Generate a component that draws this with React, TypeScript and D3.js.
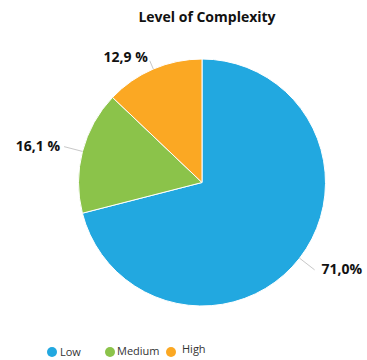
import React from "react";
import * as d3 from "d3";

const categories = ["Low", "Medium", "High"];
const values = [71.0, 16.1, 12.9];
const labels = ["71,0%", "16,1 %", "12,9 %"];
const colors = ["#22a8e0", "#8bc34a", "#fba823"];

export default function App() {
  const W = 367, H = 360;
  const cx = 202, cy = 182.5, r = 123.5;
  const data = categories.map((c, i) => ({ c, v: values[i], label: labels[i], color: colors[i] }));
  const pie = d3.pie<any>().value((d) => d.v).sort(null);
  const arcs = pie(data);
  const arc = d3.arc<any>().innerRadius(0).outerRadius(r);

  const leaderLen = [19, 19, 9];
  const labelPos = [
    { dx: 7, dy: 4, anchor: "start" },
    { dx: -4, dy: 4, anchor: "end" },
    { dx: -2, dy: 1, anchor: "end" },
  ];

  const legendX = [52, 110, 171];
  const legendTextDx = [8, 7, 11];
  const legendTextDy = [4, 3, 1];

  return (
    <svg width={W} height={H} style={{ position: "absolute", left: 0, top: 0 }} fontFamily="'Open Sans', sans-serif">
      <rect width={W} height={H} fill="#fff" />
      <text x={207} y={22} textAnchor="middle" fontWeight="bold" fontSize={14} fill="#111">
        Level of Complexity
      </text>
      <g transform={`translate(${cx},${cy})`}>
        {arcs.map((a, i) => (
          <path key={i} d={arc(a) as string} fill={a.data.color} stroke="#fff" strokeWidth={1} />
        ))}
        {arcs.map((a, i) => {
          const mid = (a.startAngle + a.endAngle) / 2;
          const sx = Math.sin(mid), sy = -Math.cos(mid);
          const p1 = [sx * r, sy * r];
          const p2 = [sx * (r + leaderLen[i]), sy * (r + leaderLen[i])];
          const lp = labelPos[i];
          return (
            <g key={"l" + i}>
              <path d={`M${p1[0]},${p1[1]}L${p2[0]},${p2[1]}`} stroke="#c8c8c8" strokeWidth={1} fill="none" />
              <text
                x={p2[0] + lp.dx}
                y={p2[1] + lp.dy}
                textAnchor={lp.anchor}
                fontWeight="bold"
                fontSize={14}
                fill="#111"
              >
                {a.data.label}
              </text>
            </g>
          );
        })}
      </g>
      {data.map((d, i) => (
        <g key={"lg" + i} transform={`translate(${legendX[i]},352)`}>
          <circle r={5} fill={d.color} />
          <text x={legendTextDx[i]} y={legendTextDy[i]} fontSize={11} fill="#333">
            {d.c}
          </text>
        </g>
      ))}
    </svg>
  );
}
